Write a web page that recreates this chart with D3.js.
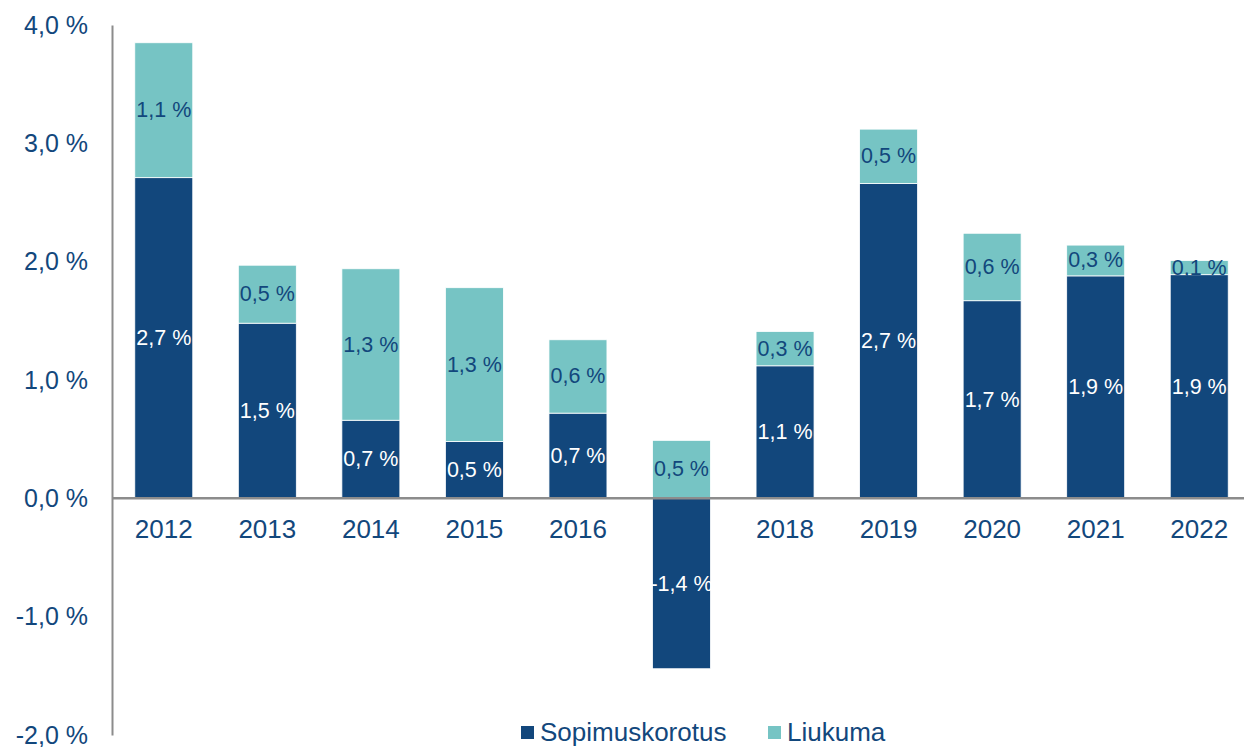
<!DOCTYPE html>
<meta charset="utf-8">
<style>
    body { margin: 0; background: #fff; }
    svg text { font-family: "Liberation Sans", Arial, sans-serif; }
</style>

<svg width="1244" height="747"></svg>

<script src="https://cdn.jsdelivr.net/npm/d3@7"></script>

<script>
    // vuodet, 2017 ilman otsikkoa
    var categories = ["2012", "2013", "2014", "2015", "2016", "2017", "2018", "2019", "2020", "2021", "2022"];
    var tickLabels = ["2012", "2013", "2014", "2015", "2016", "", "2018", "2019", "2020", "2021", "2022"];
    var sopimuskorotus = [2.71, 1.48, 0.66, 0.48, 0.72, -1.44, 1.12, 2.66, 1.67, 1.88, 1.89];
    var liukuma = [1.14, 0.49, 1.28, 1.30, 0.62, 0.49, 0.29, 0.46, 0.57, 0.26, 0.12];
    var seriesNames = ["Sopimuskorotus", "Liukuma"];
    var yTicks = [-2, -1, 0, 1, 2, 3, 4];

    (function () {
        var svg = d3.select("svg"),
            navy = "#12477c",
            teal = "#76c4c4",
            axisGrey = "#8c8c8c",
            left = 112,
            xScale = d3.scaleBand().domain(categories).range([left, 1251]).paddingInner(0.44).paddingOuter(0.22),
            yScale = d3.scaleLinear().domain([-2, 4]).range([735, 25]),
            color = d3.scaleOrdinal().domain(seriesNames).range([navy, teal]),
            fmt = function (v) { return d3.format(".1f")(v).replace(".", ",").replace("−", "-") + " %"; };

        var rows = categories.map(function (c, i) {
            return {year: c, Sopimuskorotus: sopimuskorotus[i], Liukuma: liukuma[i]};
        });
        var stacked = d3.stack().keys(seriesNames).offset(d3.stackOffsetDiverging)(rows);

        var groups = svg.selectAll("g.series")
            .data(stacked)
            .enter()
            .append("g")
            .attr("class", "series")
            .attr("fill", function (d) { return color(d.key); });

        groups.selectAll("rect")
            .data(function (d) { return d; })
            .enter()
            .append("rect")
            .attr("x", function (d) { return xScale(d.data.year); })
            .attr("width", xScale.bandwidth())
            .attr("y", function (d) { return yScale(Math.max(d[0], d[1])); })
            .attr("height", function (d) { return Math.abs(yScale(d[0]) - yScale(d[1])); })
            .attr("stroke", "#fff")
            .attr("stroke-width", 0.8);

        // arvot palkkien keskelle
        groups.each(function (s) {
            d3.select(this).selectAll("text")
                .data(s)
                .enter()
                .append("text")
                .attr("x", function (d) { return xScale(d.data.year) + xScale.bandwidth() / 2; })
                .attr("y", function (d) { return yScale((d[0] + d[1]) / 2); })
                .attr("text-anchor", "middle")
                .attr("dominant-baseline", "central")
                .attr("font-size", 21.5)
                .attr("fill", s.key === "Sopimuskorotus" ? "#fff" : navy)
                .text(function (d) { return fmt(d.data[s.key]); });
        });

        // y-akseli
        var yAxis = d3.axisLeft(yScale).tickValues(yTicks).tickSize(0).tickPadding(24).tickFormat(fmt);
        var gy = svg.append("g")
            .attr("transform", "translate(" + [left, 0] + ")")
            .call(yAxis);
        gy.select(".domain").attr("stroke", axisGrey).attr("stroke-width", 2);
        gy.selectAll("text").attr("font-size", 25).attr("fill", navy).attr("font-family", null);

        // x-akseli nollatasolla
        var xAxis = d3.axisBottom(xScale).tickSize(0).tickPadding(21)
            .tickFormat(function (d, i) { return tickLabels[i]; });
        var gx = svg.append("g")
            .attr("transform", "translate(" + [0, yScale(0)] + ")")
            .call(xAxis);
        gx.select(".domain").attr("d", "M" + left + ",0H1244").attr("stroke", axisGrey).attr("stroke-width", 2.5);
        gx.selectAll("text").attr("font-size", 26).attr("fill", navy).attr("font-family", null);

        // selite
        var legendX = [521, 768];
        var legend = svg.selectAll("g.legend")
            .data(seriesNames)
            .enter()
            .append("g")
            .attr("class", "legend")
            .attr("transform", function (d, i) { return "translate(" + [legendX[i], 726] + ")"; });
        legend.append("rect")
            .attr("width", 13)
            .attr("height", 13)
            .attr("fill", function (d) { return color(d); });
        legend.append("text")
            .attr("x", 19)
            .attr("y", 15)
            .attr("font-size", 26)
            .attr("fill", navy)
            .text(function (d) { return d; });
    })();
</script>
